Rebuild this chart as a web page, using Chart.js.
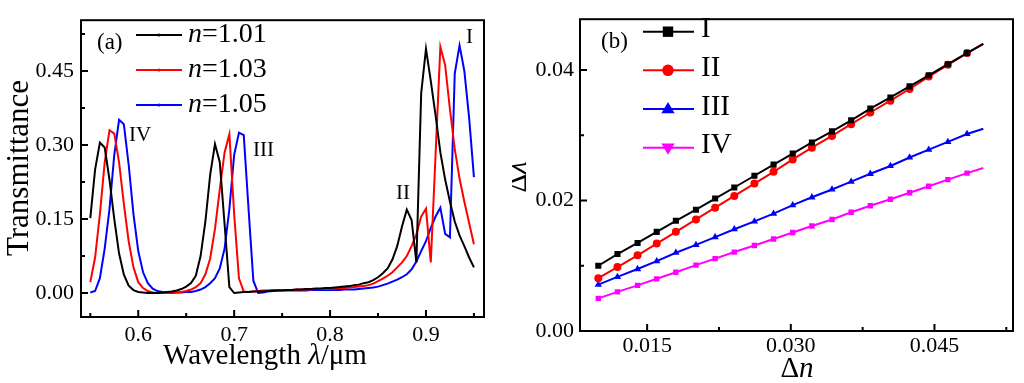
<!DOCTYPE html>
<html>
<head>
<meta charset="utf-8">
<script src="https://cdn.jsdelivr.net/npm/chart.js@4.4.1/dist/chart.umd.min.js"></script>
<style>
html, body { margin: 0; padding: 0; background: #fff; }
#wrap { position: relative; width: 1024px; height: 383px; }
.panel { position: absolute; top: 0; width: 512px; height: 383px; }
</style>
</head>
<body>
<div id="wrap">
  <div class="panel" style="left:0"><canvas id="chartA"></canvas></div>
  <div class="panel" style="left:512px"><canvas id="chartB"></canvas></div>
</div>
<script>
// panel (a): transmittance spectra
const wavelength = [
  0.550, 0.555, 0.560, 0.565, 0.570, 0.575, 0.580, 0.585, 0.590, 0.595,
  0.600, 0.605, 0.610, 0.615, 0.620, 0.625, 0.630, 0.635, 0.640, 0.645,
  0.650, 0.655, 0.660, 0.665, 0.670, 0.675, 0.680, 0.685, 0.690, 0.695,
  0.700, 0.705, 0.710, 0.715, 0.720, 0.725, 0.730, 0.735, 0.740, 0.745,
  0.750, 0.755, 0.760, 0.765, 0.770, 0.775, 0.780, 0.785, 0.790, 0.795,
  0.800, 0.805, 0.810, 0.815, 0.820, 0.825, 0.830, 0.835, 0.840, 0.845,
  0.850, 0.855, 0.860, 0.865, 0.870, 0.875, 0.880, 0.885, 0.890, 0.895,
  0.900, 0.905, 0.910, 0.915, 0.920, 0.925, 0.930, 0.935, 0.940, 0.945, 0.950
];
const transN101 = [
  0.152, 0.250, 0.305, 0.295, 0.230, 0.150, 0.080, 0.037, 0.015, 0.006,
  0.002, 0.001, 0.000, 0.000, 0.000, 0.001, 0.002, 0.003, 0.005, 0.008,
  0.013, 0.020, 0.035, 0.075, 0.145, 0.240, 0.302, 0.265, 0.140, 0.012,
  0.000, 0.001, 0.002, 0.002, 0.003, 0.003, 0.003, 0.004, 0.004, 0.005,
  0.005, 0.006, 0.006, 0.007, 0.007, 0.008, 0.008, 0.009, 0.009, 0.010,
  0.010, 0.011, 0.012, 0.013, 0.014, 0.016, 0.017, 0.020, 0.022, 0.026,
  0.032, 0.040, 0.050, 0.068, 0.095, 0.135, 0.169, 0.148, 0.062, 0.405,
  0.495, 0.430, 0.360, 0.285, 0.230, 0.185, 0.145, 0.117, 0.095, 0.072, 0.052
];
const transN103 = [
  0.022, 0.072, 0.160, 0.265, 0.330, 0.323, 0.265, 0.180, 0.105, 0.052,
  0.022, 0.010, 0.004, 0.001, 0.000, 0.000, 0.000, 0.001, 0.001, 0.002,
  0.004, 0.007, 0.012, 0.020, 0.038, 0.070, 0.130, 0.210, 0.285, 0.322,
  0.160, 0.030, 0.003, 0.002, 0.003, 0.004, 0.005, 0.005, 0.006, 0.006,
  0.006, 0.006, 0.006, 0.007, 0.007, 0.007, 0.007, 0.008, 0.008, 0.008,
  0.008, 0.009, 0.010, 0.010, 0.011, 0.012, 0.013, 0.014, 0.016, 0.019,
  0.024, 0.029, 0.035, 0.042, 0.052, 0.062, 0.075, 0.095, 0.119, 0.155,
  0.171, 0.062, 0.280, 0.499, 0.462, 0.372, 0.292, 0.232, 0.185, 0.142, 0.099
];
const transN105 = [
  0.001, 0.004, 0.030, 0.090, 0.170, 0.280, 0.351, 0.342, 0.260, 0.160,
  0.085, 0.042, 0.020, 0.009, 0.004, 0.002, 0.001, 0.000, 0.001, 0.001,
  0.002, 0.002, 0.004, 0.007, 0.012, 0.020, 0.030, 0.050, 0.090, 0.170,
  0.280, 0.325, 0.320, 0.170, 0.025, 0.000, 0.001, 0.003, 0.004, 0.005,
  0.005, 0.005, 0.005, 0.005, 0.005, 0.005, 0.006, 0.006, 0.006, 0.006,
  0.006, 0.006, 0.006, 0.007, 0.007, 0.007, 0.008, 0.009, 0.010, 0.011,
  0.013, 0.016, 0.019, 0.023, 0.027, 0.032, 0.038, 0.048, 0.064, 0.085,
  0.105, 0.132, 0.155, 0.173, 0.120, 0.113, 0.445, 0.502, 0.450, 0.355, 0.235
];
const seriesNamesA = ['1.01', '1.03', '1.05'];

// panel (b): peak shift vs index change
const deltaN = [
  0.0099, 0.0119, 0.0140, 0.0160, 0.0180, 0.0201, 0.0221, 0.0241, 0.0262, 0.0282,
  0.0302, 0.0322, 0.0343, 0.0363, 0.0383, 0.0404, 0.0424, 0.0444, 0.0464, 0.0484, 0.0501
];
const shiftI = [
  0.0100, 0.0118, 0.0135, 0.0152, 0.0169, 0.0186, 0.0203, 0.0220, 0.0238, 0.0255,
  0.0272, 0.0289, 0.0306, 0.0323, 0.0341, 0.0358, 0.0375, 0.0392, 0.0409, 0.0426, 0.0440
];
const shiftII = [
  0.0081, 0.0098, 0.0116, 0.0134, 0.0152, 0.0171, 0.0189, 0.0207, 0.0226, 0.0244,
  0.0263, 0.0281, 0.0299, 0.0317, 0.0335, 0.0353, 0.0371, 0.0390, 0.0408, 0.0426, 0.0440
];
const shiftIII = [
  0.0071, 0.0083, 0.0095, 0.0107, 0.0120, 0.0132, 0.0144, 0.0156, 0.0168, 0.0180,
  0.0193, 0.0205, 0.0217, 0.0229, 0.0241, 0.0253, 0.0266, 0.0278, 0.0290, 0.0302, 0.0310
];
const shiftIV = [
  0.0050, 0.0060, 0.0070, 0.0080, 0.0090, 0.0101, 0.0111, 0.0121, 0.0131, 0.0141,
  0.0151, 0.0161, 0.0171, 0.0182, 0.0192, 0.0202, 0.0212, 0.0222, 0.0232, 0.0242, 0.0250
];
const seriesNamesB = ['I', 'II', 'III', 'IV'];

const xTicksA = [0.6, 0.7, 0.8, 0.9];
const xMinorA = [0.55, 0.65, 0.75, 0.85, 0.95];
const yTicksA = [0, 0.15, 0.30, 0.45];
const yMinorA = [0.075, 0.225, 0.375, 0.525];
const xTicksB = [0.015, 0.030, 0.045];
const xMinorB = [0.0225, 0.0375, 0.0525];
const yTicksB = [0, 0.02, 0.04];
const yMinorB = [0.01, 0.03];

const serif = '"Liberation Serif", "Times New Roman", serif';
const colorsA = ['#000000', '#ff0000', '#0000ff'];
const colorsB = ['#000000', '#ff0000', '#0000ff', '#ff00ff'];

function pts(xs, ys) {
  return xs.map((x, i) => ({ x: x, y: ys[i] }));
}

// draw text made of runs with different fonts
function drawRuns(ctx, runs, x, y, align) {
  let total = 0;
  runs.forEach(r => { ctx.font = r[1]; total += ctx.measureText(r[0]).width; });
  let cx = align === 'center' ? x - total / 2 : x;
  ctx.textAlign = 'left';
  ctx.textBaseline = 'middle';
  runs.forEach(r => {
    ctx.font = r[1];
    ctx.fillText(r[0], cx, y);
    cx += ctx.measureText(r[0]).width;
  });
}

function drawFrameAndTicks(chart, xMaj, xMin, yMaj, yMin) {
  const ctx = chart.ctx;
  const a = chart.chartArea;
  const xs = chart.scales.x, ys = chart.scales.y;
  ctx.save();
  ctx.strokeStyle = '#000';
  ctx.lineWidth = 2;
  ctx.strokeRect(a.left, a.top, a.right - a.left, a.bottom - a.top);
  ctx.beginPath();
  xMaj.forEach(v => { const p = xs.getPixelForValue(v); ctx.moveTo(p, a.bottom); ctx.lineTo(p, a.bottom - 7); });
  xMin.forEach(v => { const p = xs.getPixelForValue(v); ctx.moveTo(p, a.bottom); ctx.lineTo(p, a.bottom - 4); });
  yMaj.forEach(v => { const p = ys.getPixelForValue(v); ctx.moveTo(a.left, p); ctx.lineTo(a.left + 7, p); });
  yMin.forEach(v => { const p = ys.getPixelForValue(v); ctx.moveTo(a.left, p); ctx.lineTo(a.left + 4, p); });
  ctx.stroke();
  ctx.restore();
}

function marker(ctx, style, x, y, r, color) {
  ctx.fillStyle = color;
  ctx.beginPath();
  if (style === 'rect') {
    ctx.rect(x - r, y - r, 2 * r, 2 * r);
  } else if (style === 'circle') {
    ctx.arc(x, y, r, 0, Math.PI * 2);
  } else if (style === 'up') {
    ctx.moveTo(x, y - r); ctx.lineTo(x + r * 0.95, y + r * 0.6); ctx.lineTo(x - r * 0.95, y + r * 0.6);
  } else {
    ctx.moveTo(x, y + r); ctx.lineTo(x + r * 0.95, y - r * 0.6); ctx.lineTo(x - r * 0.95, y - r * 0.6);
  }
  ctx.closePath();
  ctx.fill();
}

const decorA = {
  id: 'decorA',
  afterDraw(chart) {
    const ctx = chart.ctx;
    drawFrameAndTicks(chart, xTicksA, xMinorA, yTicksA, yMinorA);
    ctx.save();
    ctx.fillStyle = '#000';
    // legend
    [35, 70, 105].forEach((y, i) => {
      ctx.strokeStyle = colorsA[i];
      ctx.lineWidth = 2;
      ctx.beginPath(); ctx.moveTo(136, y); ctx.lineTo(182, y); ctx.stroke();
      ctx.fillStyle = colorsA[i];
      ctx.beginPath(); ctx.arc(159, y, 1.6, 0, Math.PI * 2); ctx.fill();
      ctx.fillStyle = '#000';
      drawRuns(ctx, [['n', 'italic 28px ' + serif], ['=' + seriesNamesA[i], '28px ' + serif]], 188, y, 'left');
    });
    drawRuns(ctx, [['(a)', '23px ' + serif]], 97, 43, 'left');
    // peak labels
    drawRuns(ctx, [['IV', '21px ' + serif]], 129, 135, 'left');
    drawRuns(ctx, [['III', '21px ' + serif]], 253, 150, 'left');
    drawRuns(ctx, [['II', '21px ' + serif]], 396, 193, 'left');
    drawRuns(ctx, [['I', '21px ' + serif]], 466, 37, 'left');
    // axis titles
    drawRuns(ctx, [['Wavelength ', '29px ' + serif], ['\u03bb', 'italic 29px ' + serif], ['/\u03bcm', '29px ' + serif]], 265, 356, 'center');
    ctx.translate(20, 168);
    ctx.rotate(-Math.PI / 2);
    drawRuns(ctx, [['Transmittance', '31px ' + serif]], 0, 0, 'center');
    ctx.restore();
  }
};

const decorB = {
  id: 'decorB',
  afterDraw(chart) {
    const ctx = chart.ctx;
    drawFrameAndTicks(chart, xTicksB, xMinorB, yTicksB, yMinorB);
    ctx.save();
    const styles = ['rect', 'circle', 'up', 'down'];
    const sizes = [5.2, 5.8, 7, 7];
    [31.7, 70.3, 109, 147.7].forEach((y, i) => {
      ctx.strokeStyle = colorsB[i];
      ctx.lineWidth = 2;
      ctx.beginPath(); ctx.moveTo(131, y); ctx.lineTo(182, y); ctx.stroke();
      marker(ctx, styles[i], 156, y, sizes[i], colorsB[i]);
      ctx.fillStyle = '#000';
      drawRuns(ctx, [[seriesNamesB[i], '29px ' + serif]], 189, y - 2, 'left');
    });
    ctx.fillStyle = '#000';
    drawRuns(ctx, [['(b)', '23px ' + serif]], 89, 42, 'left');
    drawRuns(ctx, [['\u0394', '29px ' + serif], ['n', 'italic 29px ' + serif]], 285, 369, 'center');
    ctx.translate(6, 177);
    ctx.rotate(-Math.PI / 2);
    drawRuns(ctx, [['\u0394', '29px ' + serif], ['\u03bb', 'italic 29px ' + serif]], 0, 0, 'center');
    ctx.restore();
  }
};

function tickFont() { return { family: serif, size: 22 }; }

new Chart(document.getElementById('chartA'), {
  type: 'line',
  data: {
    datasets: [transN101, transN103, transN105].map((ys, i) => ({
      data: pts(wavelength, ys),
      borderColor: colorsA[i],
      borderWidth: 2,
      pointRadius: 0,
      tension: 0,
      fill: false
    }))
  },
  options: {
    responsive: true,
    maintainAspectRatio: false,
    animation: false,
    layout: { padding: { left: 0, right: 28, top: 16, bottom: 0 } },
    plugins: { legend: { display: false }, tooltip: { enabled: false } },
    scales: {
      x: {
        type: 'linear', min: 0.5403, max: 0.9605,
        afterBuildTicks: s => { s.ticks = xTicksA.map(v => ({ value: v })); },
        afterFit: s => { s.height = 66; },
        grid: { display: false, drawTicks: false },
        border: { display: false },
        ticks: { color: '#000', font: tickFont(), padding: 5, maxRotation: 0, autoSkip: false, callback: v => v.toFixed(1) }
      },
      y: {
        type: 'linear', min: -0.0486, max: 0.553,
        afterBuildTicks: s => { s.ticks = yTicksA.map(v => ({ value: v })); },
        afterFit: s => { s.width = 81; },
        grid: { display: false, drawTicks: false },
        border: { display: false },
        ticks: { color: '#000', font: tickFont(), padding: 7, autoSkip: false, callback: v => v.toFixed(2) }
      }
    }
  },
  plugins: [decorA]
});

const markerStylesB = ['rect', 'circle', 'triangle', 'rect'];
const markerRadiusB = [4.3, 4, 4.2, 3.8];

new Chart(document.getElementById('chartB'), {
  type: 'line',
  data: {
    datasets: [shiftI, shiftII, shiftIII, shiftIV].map((ys, i) => ({
      data: pts(deltaN, ys),
      borderColor: colorsB[i],
      backgroundColor: colorsB[i],
      borderWidth: 2,
      pointStyle: markerStylesB[i],
      pointRadius: ctx => (ctx.dataIndex === deltaN.length - 1 ? 0 : markerRadiusB[i]),
      pointBorderWidth: 0,
      tension: 0,
      fill: false
    }))
  },
  options: {
    responsive: true,
    maintainAspectRatio: false,
    animation: false,
    layout: { padding: { left: 0, right: 11, top: 11, bottom: 0 } },
    plugins: { legend: { display: false }, tooltip: { enabled: false } },
    scales: {
      x: {
        type: 'linear', min: 0.00799, max: 0.0532,
        afterBuildTicks: s => { s.ticks = xTicksB.map(v => ({ value: v })); },
        afterFit: s => { s.height = 52; },
        grid: { display: false, drawTicks: false },
        border: { display: false },
        ticks: { color: '#000', font: tickFont(), padding: 2.5, maxRotation: 0, autoSkip: false, callback: v => v.toFixed(3) }
      },
      y: {
        type: 'linear', min: 0, max: 0.0478,
        afterBuildTicks: s => { s.ticks = yTicksB.map(v => ({ value: v })); },
        afterFit: s => { s.width = 68; },
        grid: { display: false, drawTicks: false },
        border: { display: false },
        ticks: { color: '#000', font: tickFont(), padding: 6, autoSkip: false, callback: v => v.toFixed(2) }
      }
    }
  },
  plugins: [decorB]
});
</script>
</body>
</html>
